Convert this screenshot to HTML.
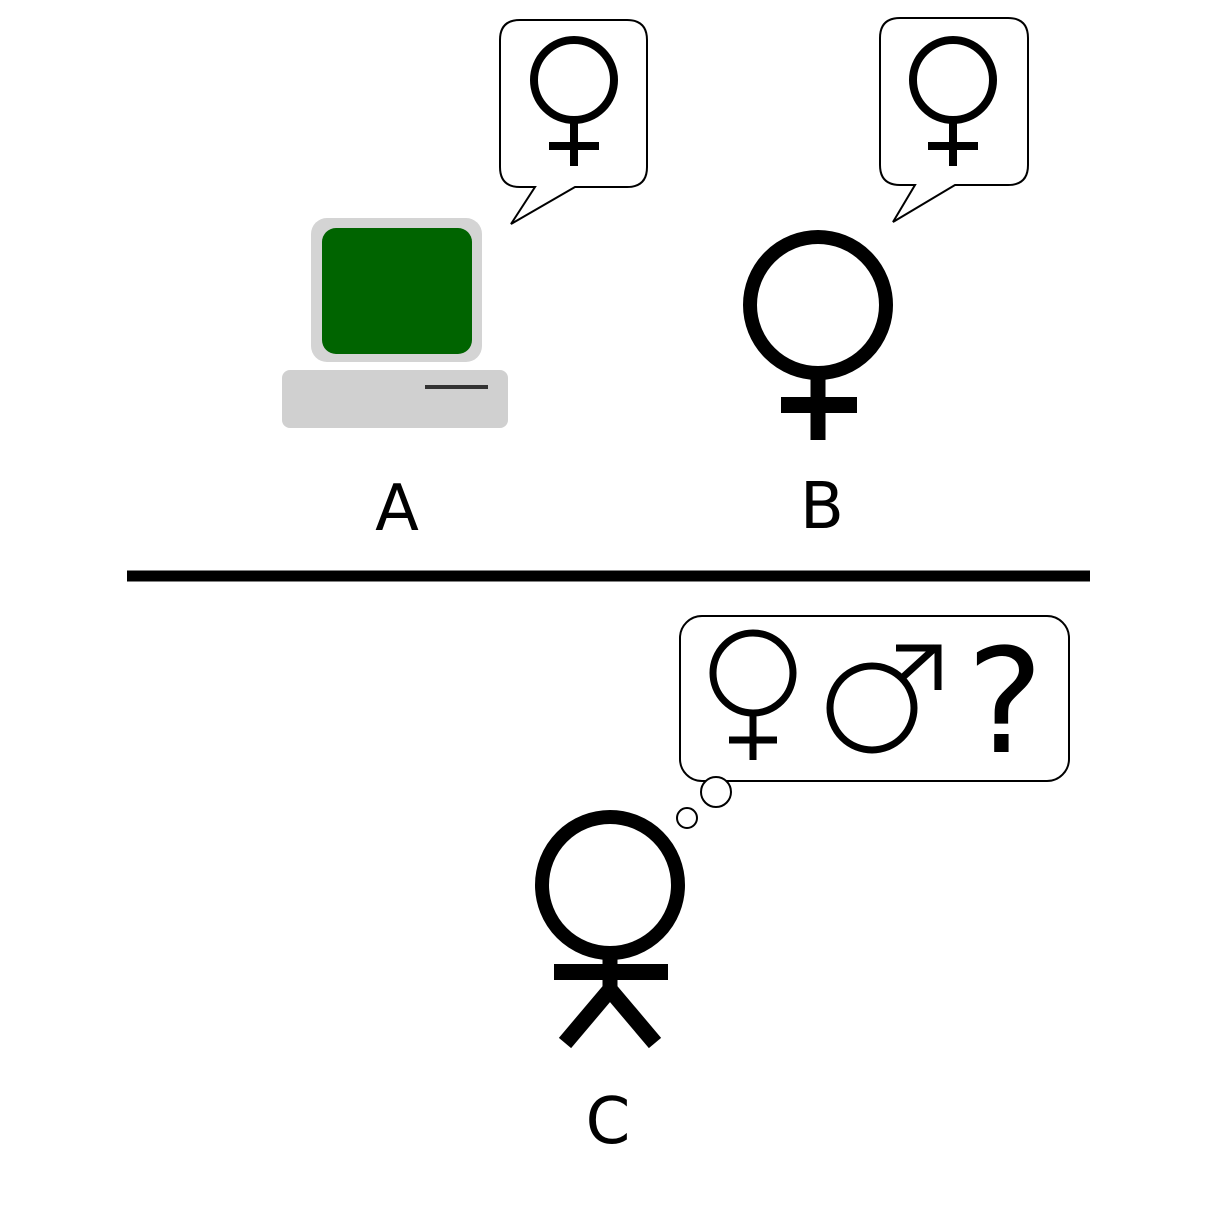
<!DOCTYPE html>
<html><head><meta charset="utf-8"><style>html,body{margin:0;padding:0;background:#fff}</style></head>
<body>
<svg width="1206" height="1206" viewBox="0 0 1206 1206" xmlns="http://www.w3.org/2000/svg">
<rect width="1206" height="1206" fill="#fff"/>
<!-- Bubble 1 -->
<path d="M520,20 H627 Q647,20 647,40 V167 Q647,187 627,187 H575 L511,224 L535,187 H520 Q500,187 500,167 V40 Q500,20 520,20 Z" fill="#fff" stroke="#000" stroke-width="2"/>
<g stroke="#000" fill="none" stroke-width="8">
<circle cx="574" cy="80" r="40"/>
<line x1="574" y1="120" x2="574" y2="166"/>
<line x1="549" y1="146" x2="599" y2="146"/>
</g>
<!-- Bubble 2 -->
<path d="M900,18 H1008 Q1028,18 1028,38 V165 Q1028,185 1008,185 H955 L893,222 L915,185 H900 Q880,185 880,165 V38 Q880,18 900,18 Z" fill="#fff" stroke="#000" stroke-width="2"/>
<g stroke="#000" fill="none" stroke-width="8">
<circle cx="953" cy="80" r="40"/>
<line x1="953" y1="120" x2="953" y2="166"/>
<line x1="928" y1="146" x2="978" y2="146"/>
</g>
<!-- Computer -->
<rect x="311" y="218" width="171" height="144" rx="16" fill="#d4d4d4"/>
<rect x="322" y="228" width="150" height="126" rx="14" fill="#006400"/>
<rect x="282" y="370" width="226" height="58" rx="8" fill="#d0d0d0"/>
<line x1="425" y1="387" x2="488" y2="387" stroke="#333" stroke-width="4"/>
<!-- B female -->
<g stroke="#000" fill="none">
<circle cx="818" cy="305" r="68" stroke-width="14"/>
<line x1="818" y1="373" x2="818" y2="440" stroke-width="15"/>
<line x1="781" y1="405" x2="857" y2="405" stroke-width="16"/>
</g>
<text x="397" y="530" font-family="DejaVu Sans, Liberation Sans, sans-serif" font-size="64" text-anchor="middle">A</text>
<text x="822" y="528" font-family="DejaVu Sans, Liberation Sans, sans-serif" font-size="64" text-anchor="middle">B</text>
<line x1="127" y1="576" x2="1090" y2="576" stroke="#000" stroke-width="11"/>
<!-- Thought bubble -->
<rect x="680" y="616" width="389" height="165" rx="22" fill="#fff" stroke="#000" stroke-width="2"/>
<circle cx="716" cy="792" r="15" fill="#fff" stroke="#000" stroke-width="2"/>
<circle cx="687" cy="818" r="10" fill="#fff" stroke="#000" stroke-width="2"/>
<g stroke="#000" fill="none" stroke-width="7">
<circle cx="753" cy="673" r="40"/>
<line x1="753" y1="713" x2="753" y2="760"/>
<line x1="729" y1="740" x2="777" y2="740"/>
<circle cx="872" cy="708" r="42"/>
<line x1="902" y1="678" x2="936" y2="647"/>
<polyline points="896,648 938,648 938,690"/>
</g>
<text x="1005" y="752" font-family="DejaVu Sans, Liberation Sans, sans-serif" font-size="145" text-anchor="middle">?</text>
<!-- C stick figure -->
<g stroke="#000" fill="none">
<circle cx="610" cy="885" r="68" stroke-width="14"/>
<line x1="610" y1="953" x2="610" y2="990" stroke-width="15"/>
<line x1="554" y1="972" x2="668" y2="972" stroke-width="16"/>
<line x1="614" y1="985" x2="565" y2="1043" stroke-width="16"/>
<line x1="606" y1="985" x2="655" y2="1043" stroke-width="16"/>
</g>
<text x="608" y="1143" font-family="DejaVu Sans, Liberation Sans, sans-serif" font-size="64" text-anchor="middle">C</text>
</svg>
</body></html>
